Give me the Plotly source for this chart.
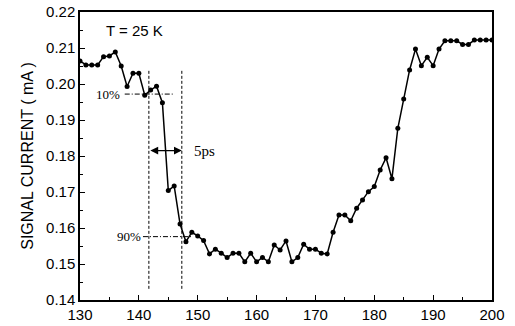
import plotly.graph_objects as go

# ---- data ----
time_ps = list(range(130, 201))
signal_ma = [
    0.2064, 0.2053, 0.2053, 0.2053, 0.2076, 0.2078, 0.2089, 0.2050, 0.1993, 0.2030,  # 130-139
    0.2030, 0.1969, 0.1983, 0.1994, 0.1948, 0.1704, 0.1717, 0.1611, 0.1562, 0.1588,  # 140-149
    0.1578, 0.1565, 0.1528, 0.1541, 0.1530, 0.1518, 0.1530, 0.1530, 0.1506, 0.1530,  # 150-159
    0.1506, 0.1518, 0.1506, 0.1553, 0.1539, 0.1564, 0.1506, 0.1518, 0.1555, 0.1541,  # 160-169
    0.1541, 0.1530, 0.1528, 0.1588, 0.1636, 0.1636, 0.1620, 0.1655, 0.1678, 0.1701,  # 170-179
    0.1715, 0.1761, 0.1795, 0.1737, 0.1877, 0.1958, 0.2039, 0.2097, 0.2051, 0.2074,  # 180-189
    0.2051, 0.2097, 0.2120, 0.2120, 0.2120, 0.2110, 0.2110, 0.2122, 0.2122, 0.2122,  # 190-199
    0.2122,                                                                          # 200
]
x_ticks = [130, 140, 150, 160, 170, 180, 190, 200]
y_ticks = [0.14, 0.15, 0.16, 0.17, 0.18, 0.19, 0.20, 0.21, 0.22]
y_tick_labels = ["0.14", "0.15", "0.16", "0.17", "0.18", "0.19", "0.20", "0.21", "0.22"]

# annotation geometry (data units)
t10_x, t90_x = 141.7, 147.3
v_line_lo, v_line_hi = 0.1431, 0.2039
lvl10_y, lvl10_x0, lvl10_x1 = 0.1972, 137.6, 146.0
lvl90_y, lvl90_x0, lvl90_x1 = 0.1576, 140.7, 149.0
arrow_y = 0.1815

SANS = "Liberation Sans, Arial, sans-serif"
SERIF = "Liberation Serif, Times New Roman, serif"

fig = go.Figure()
fig.add_trace(go.Scatter(
    x=time_ps, y=signal_ma, mode="lines+markers",
    line=dict(color="black", width=1.5),
    marker=dict(color="black", size=5),
    showlegend=False,
))

dash_v = "3px,2px"
for xv in (t10_x, t90_x):
    fig.add_shape(type="line", xref="x", yref="y", x0=xv, x1=xv,
                  y0=v_line_lo, y1=v_line_hi,
                  line=dict(color="black", width=1, dash=dash_v))
fig.add_shape(type="line", xref="x", yref="y", x0=lvl10_x0, x1=lvl10_x1,
              y0=lvl10_y, y1=lvl10_y,
              line=dict(color="black", width=1, dash="5px,2px,1px,2px"))
fig.add_shape(type="line", xref="x", yref="y", x0=lvl90_x0, x1=lvl90_x1,
              y0=lvl90_y, y1=lvl90_y,
              line=dict(color="black", width=1, dash="5px,2px,1px,2px"))

# double arrow
fig.add_annotation(x=t90_x, y=arrow_y, ax=t10_x, ay=arrow_y,
                   xref="x", yref="y", axref="x", ayref="y",
                   text="", showarrow=True, arrowhead=2, arrowside="end+start",
                   arrowsize=1.2, arrowwidth=1.3, arrowcolor="black")

fig.add_annotation(x=lvl10_x0 - 0.4, y=lvl10_y, xref="x", yref="y", text="10%",
                   showarrow=False, xanchor="right", yanchor="middle",
                   font=dict(family=SERIF, size=13, color="black"))
fig.add_annotation(x=lvl90_x0, y=lvl90_y, xref="x", yref="y", text="90%",
                   showarrow=False, xanchor="right", yanchor="middle",
                   font=dict(family=SERIF, size=13, color="black"))
fig.add_annotation(x=149.0, y=arrow_y, xref="x", yref="y", text="5ps",
                   showarrow=False, xanchor="left", yanchor="middle",
                   font=dict(family=SERIF, size=15, color="black"))
fig.add_annotation(x=134.0, y=0.2148, xref="x", yref="y", text="T = 25 K",
                   showarrow=False, xanchor="left", yanchor="middle",
                   font=dict(family=SANS, size=15, color="black"))

fig.update_xaxes(
    range=[130, 200], tickvals=x_ticks, ticks="inside", ticklen=5,
    tickwidth=1, tickcolor="black",
    minor=dict(ticks="inside", ticklen=3, dtick=5, tickcolor="black"),
    showline=True, linecolor="black", linewidth=1.5, mirror=True,
    showgrid=False, zeroline=False, automargin=False,
    tickfont=dict(family=SANS, size=15, color="black"),
)
fig.update_yaxes(
    range=[0.14, 0.22], tickvals=y_ticks, ticktext=y_tick_labels,
    ticks="inside", ticklen=5, tickwidth=1, tickcolor="black",
    minor=dict(ticks="inside", ticklen=3, dtick=0.005, tickcolor="black"),
    showline=True, linecolor="black", linewidth=1.5, mirror=True,
    showgrid=False, zeroline=False, automargin=False,
    tickfont=dict(family=SANS, size=15, color="black"),
    title=dict(text="SIGNAL CURRENT ( mA )", standoff=8,
               font=dict(family=SANS, size=16, color="black")),
)
fig.update_layout(
    width=515, height=326,
    margin=dict(l=80, r=23, t=12, b=26),
    paper_bgcolor="white", plot_bgcolor="white",
)
fig.write_html(
    "out.html",
    config={"displayModeBar": False},
    post_script="document.body.style.margin='0';document.body.style.padding='0';",
)
